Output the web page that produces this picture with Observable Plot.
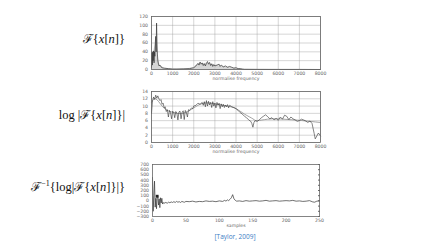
<!DOCTYPE html>
<html><head><meta charset="utf-8">
<script src="https://cdn.jsdelivr.net/npm/d3@7"></script>
<script src="https://cdn.jsdelivr.net/npm/@observablehq/plot@0.6"></script>
<style>
body{margin:0;background:#fff;}
#wrap{position:relative;width:421px;height:244px;overflow:hidden;background:#fff;}
#wrap svg{position:absolute;left:0;}
.lab{position:absolute;font-family:"Liberation Serif","DejaVu Serif",serif;font-size:12.5px;color:#111;white-space:nowrap;text-align:right;right:296px;line-height:1;}
.lab i{font-style:italic;}
#cap{position:absolute;left:0;width:470px;text-align:center;top:232px;font-family:"Open Sans",sans-serif;font-size:6.5px;color:#3a7cc4;}
</style></head><body>
<div id="wrap">
  <div class="lab" style="top:33px">ℱ{<i>x</i>[<i>n</i>]}</div>
  <div class="lab" style="top:109px">log |ℱ{<i>x</i>[<i>n</i>]}|</div>
  <div class="lab" style="top:180px">ℱ<sup style="font-size:8px">−1</sup>{log|ℱ{<i>x</i>[<i>n</i>]}|}</div>
  <div id="cap">[Taylor, 2009]</div>
</div>
<script>
// ---- data ----
const freqTicks = [0,1000,2000,3000,4000,5000,6000,7000,8000];
const magTicks = [0,20,40,60,80,100,120];
const logTicks = [0,2,4,6,8,10,12,14];
const cepTicks = [-300,-200,-100,0,100,200,300,400,500,600,700];
const sampleTicks = [0,50,100,150,200,250];

const specFreq = [0,20,40,60,80,100,120,140,160,180,200,220,240,260,280,300,330,360,400,450,500,600,800,1000,1200,1500,1800,2000,2100,2200,2250,2300,2350,2400,2450,2500,2550,2600,2650,2700,2750,2800,2850,2900,2950,3000,3100,3200,3250,3300,3400,3500,3600,3700,3800,3900,4000,4100,4200,4300,4400,5000,6000,7000,8000];
const specMag  = [5,38,10,40,20,42,15,40,30,60,75,40,105,60,35,20,12,8,10,6,4,3,2,1,1,1.5,2,4,8,14,10,17,12,15,9,13,8,14,18,12,16,9,13,7,11,8,10,12,7,10,6,8,5,7,5,3,4,2,2,1,0.5,0.3,0.2,0.2,0];
const envFreq = [0,100,200,250,300,400,600,1000,1600,2000,2200,2600,3000,3500,4000,4400,8000];
const envMag  = [35,40,60,70,30,10,3,1,1,4,12,14,10,6,3,0,0];

const logFreq = [0,50,100,150,200,250,300,350,400,450,500,550,600,650,700,750,800,850,900,950,1000,1050,1100,1150,1200,1250,1300,1350,1400,1450,1500,1550,1600,1650,1700,1750,1800,1850,1900,1950,2000,2100,2200,2300,2400,2450,2500,2550,2600,2650,2700,2750,2800,2850,2900,2950,3000,3050,3100,3150,3200,3250,3300,3350,3400,3450,3500,3550,3600,3650,3700,3800,3900,4000,4100,4200,4300,4400,4500,4600,4700,4750,4800,4850,4900,5000,5100,5200,5300,5400,5500,5600,5700,5800,5900,6000,6100,6200,6300,6400,6500,6600,6700,6800,6900,7000,7100,7200,7300,7400,7500,7600,7700,7750,7800,7900,8000];
const logMag  = [8,11.5,12.5,11.8,13,12.2,12.8,12,11.5,11.8,10.5,10.8,9.5,9.8,8.5,9,7,8.8,8.2,6.5,8.6,8.3,6.8,8.5,8.1,6.2,8.4,8.6,6.5,8.3,8.7,6.3,8.8,8.2,7,9,8.8,9.2,9.5,9.3,10,10.2,10.8,10.5,11,10.2,11.2,9.8,11.5,10,11.3,10.3,11,9.6,11.2,10,10.8,9.5,11,10.2,10.8,9.3,10.6,9.8,10.5,9.6,10.3,9.8,10.4,9.5,10.2,9.8,9.6,9.3,8.8,8.2,7.8,7.2,6.8,6.2,5.8,5.2,4.2,5.5,6,5.8,6.2,6.8,7.2,7.6,7.1,6.5,6.8,6.2,6.6,6.1,7,6.4,7.5,7.2,6.3,7,6.5,6.2,5.8,6,6.4,6.2,5.9,5.5,5.9,5.2,2.5,1,1.5,2.6,1.8];
const smoothFreq = [0,200,500,800,1200,1600,2000,2400,2800,3200,3600,4000,4400,4800,5000,5500,6000,6500,7000,7500,8000];
const smoothMag  = [11,12,10,8.7,8,8.2,9.5,10.7,10.8,10.4,10,9.3,7.8,6.5,6,6.4,6.5,6.3,6.1,5.8,5.5];

const cepN = [0,1,2,3,4,5,6,7,8,9,10,11,12,13,14,15,16,17,18,20,22,24,26,28,30,32,34,36,38,40,42,44,46,48,50,55,60,65,70,75,80,85,90,95,100,105,108,110,112,114,116,118,120,122,124,126,130,135,140,145,150,155,160,165,170,175,180,185,190,195,200,205,210,215,220,225,230,235,240,243,245,248,250];
const cepVal = [450,-200,100,380,-120,50,-150,80,90,-80,40,-130,60,-40,50,-60,-30,-50,-40,-30,-45,-25,-35,-20,-30,-15,-30,-10,-25,-15,-30,-10,-20,-25,-10,-15,-5,-20,-10,-15,0,-10,-5,-15,0,-10,10,-5,20,5,30,60,120,40,10,-5,0,-10,5,-5,0,5,-5,0,10,-5,0,5,-5,0,5,0,10,-5,0,-10,-5,5,-20,-25,-10,0,5];
const cepMarkN = [7];
const cepMarkV = [90];

// ---- build ----
const spec = specFreq.map((f,i)=>({f, v: specMag[i]}));
const env = envFreq.map((f,i)=>({f, v: envMag[i]}));
const logS = logFreq.map((f,i)=>({f, v: logMag[i]}));
const smooth = smoothFreq.map((f,i)=>({f, v: smoothMag[i]}));
const cep = cepN.map((n,i)=>({n, v: cepVal[i]}));
const cepMark = cepMarkN.map((n,i)=>({n, v: cepMarkV[i]}));

const fmt = d3.format("d");
const base = {
  width: 421, marginLeft: 151, marginRight: 101, marginTop: 16,
  style: {background: "transparent", fontFamily: "DejaVu Sans, sans-serif", fontSize: "4.6px", color: "#666"}
};
function axes(xt, yt, xlab, grid) {
  const m = [];
  if (grid) {
    m.push(Plot.gridX(xt, {stroke: "#999", strokeOpacity: 0.7, strokeWidth: 0.6}));
    m.push(Plot.gridY(yt, {stroke: "#999", strokeOpacity: 0.7, strokeWidth: 0.6}));
  }
  m.push(Plot.axisX(xt, {tickSize: 0, tickPadding: 2.5, tickFormat: fmt, fontSize: 4.6, fill: "#666", label: xlab, labelAnchor: "center", labelArrow: "none", labelOffset: 10.5}));
  m.push(Plot.axisY(yt, {tickSize: 0, tickPadding: 3.5, tickFormat: fmt, fontSize: 4.6, fill: "#666", label: null}));
  return m;
}

const c1 = Plot.plot({...base, height: 83, marginBottom: 14,
  x: {domain: [0, 8000]}, y: {domain: [0, 120]},
  marks: [
    ...axes(freqTicks, magTicks, "normalise frequency", true),
    Plot.areaY(env, {x: "f", y: "v", fill: "#c4c4c4", fillOpacity: 0.7}),
    Plot.line(spec, {x: "f", y: "v", stroke: "#333", strokeWidth: 0.7}),
    Plot.frame({stroke: "#666", strokeWidth: 0.8})
  ]});
c1.style.top = "0px";

const c2 = Plot.plot({...base, height: 80, marginBottom: 13,
  x: {domain: [0, 8000]}, y: {domain: [0, 14]},
  marks: [
    ...axes(freqTicks, logTicks, "normalise frequency", true),
    Plot.line(smooth, {x: "f", y: "v", stroke: "#999", strokeWidth: 0.9, curve: "natural"}),
    Plot.line(logS, {x: "f", y: "v", stroke: "#333", strokeWidth: 0.6}),
    Plot.frame({stroke: "#666", strokeWidth: 0.8})
  ]});
c2.style.top = "75px";

const c3 = Plot.plot({...base, height: 80, marginBottom: 12, marginLeft: 152, marginRight: 102,
  x: {domain: [0, 250]}, y: {domain: [-300, 700]},
  marks: [
    ...axes(sampleTicks, cepTicks, "samples", false),
    Plot.axisY(cepTicks, {anchor: "right", tickSize: -2, text: null, label: null, stroke: "#666"}),
    Plot.line(cep, {x: "n", y: "v", stroke: "#333", strokeWidth: 0.7}),
    Plot.dot(cepMark, {x: "n", y: "v", symbol: "square", r: 1.6, fill: "#222"}),
    Plot.frame({stroke: "#666", strokeWidth: 0.8})
  ]});
c3.style.top = "148px";

const w = document.getElementById("wrap");
w.appendChild(c1); w.appendChild(c2); w.appendChild(c3);
</script>
</body></html>
